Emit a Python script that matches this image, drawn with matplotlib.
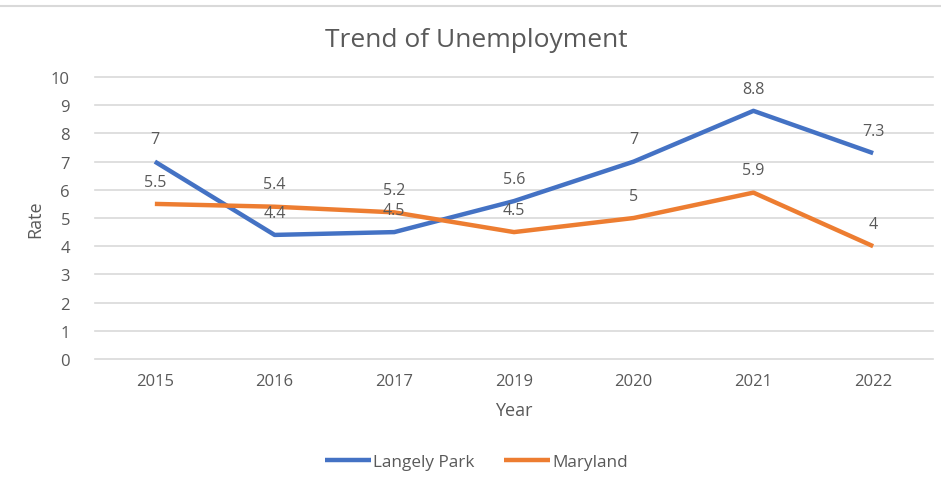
import matplotlib
matplotlib.use("Agg")
import matplotlib.pyplot as plt
from matplotlib.lines import Line2D

years = ["2015", "2016", "2017", "2019", "2020", "2021", "2022"]
langely_park = [7, 4.4, 4.5, 5.6, 7, 8.8, 7.3]
maryland = [5.5, 5.4, 5.2, 4.5, 5, 5.9, 4]
y_ticks = [0, 1, 2, 3, 4, 5, 6, 7, 8, 9, 10]

text_color = "#595959"
grid_color = "#D9D9D9"
blue = "#4472C4"
orange = "#ED7D31"

plt.rcParams["font.family"] = ["Open Sans", "DejaVu Sans"]

fig = plt.figure(figsize=(9.41, 4.81), dpi=100)
fig.patch.set_facecolor("white")
ax = fig.add_axes([95 / 941, 1 - 360 / 481, (933 - 95) / 941, (360 - 78) / 481])

x = list(range(len(years)))
ax.plot(x, langely_park, color=blue, linewidth=3.2, solid_capstyle="butt",
        label="Langely Park", zorder=3)
ax.plot(x, maryland, color=orange, linewidth=3.2, solid_capstyle="butt",
        label="Maryland", zorder=3)

for series in (langely_park, maryland):
    for xi, val in zip(x, series):
        ax.annotate(f"{val:g}", (xi, val), xytext=(0, 16), textcoords="offset points",
                    ha="center", va="center", fontsize=11.5, color=text_color, zorder=4)

ax.set_xlim(-0.5, len(years) - 0.5)
ax.set_ylim(0, 10)
ax.set_xticks(x)
ax.set_xticklabels(years)
ax.set_yticks(y_ticks)
ax.tick_params(axis="both", length=0, labelsize=12, colors=text_color)
ax.tick_params(axis="x", pad=10)
ax.tick_params(axis="y", pad=18)
ax.grid(axis="y", color=grid_color, linewidth=1.2)
for gl in ax.get_ygridlines():
    gl.set_clip_on(False)
ax.set_axisbelow(True)
for spine in ax.spines.values():
    spine.set_visible(False)

ax.set_xlabel("Year", fontsize=13, color=text_color, labelpad=9)
ax.set_ylabel("Rate", fontsize=13, color=text_color, labelpad=5)

fig.text(476 / 941, 1 - 41 / 481, "Trend of Unemployment", ha="center", va="center",
         fontsize=19, color=text_color)

ax.legend(loc="center", bbox_to_anchor=(0.455, -0.365), ncol=2, frameon=False,
          fontsize=12.3, labelcolor=text_color, handlelength=2.7, handletextpad=0.15,
          columnspacing=1.7)

fig.add_artist(Line2D([0, 1], [1 - 7 / 481, 1 - 7 / 481], color="#D9D9D9", linewidth=1.5))

fig.savefig("out.png", dpi=100)
